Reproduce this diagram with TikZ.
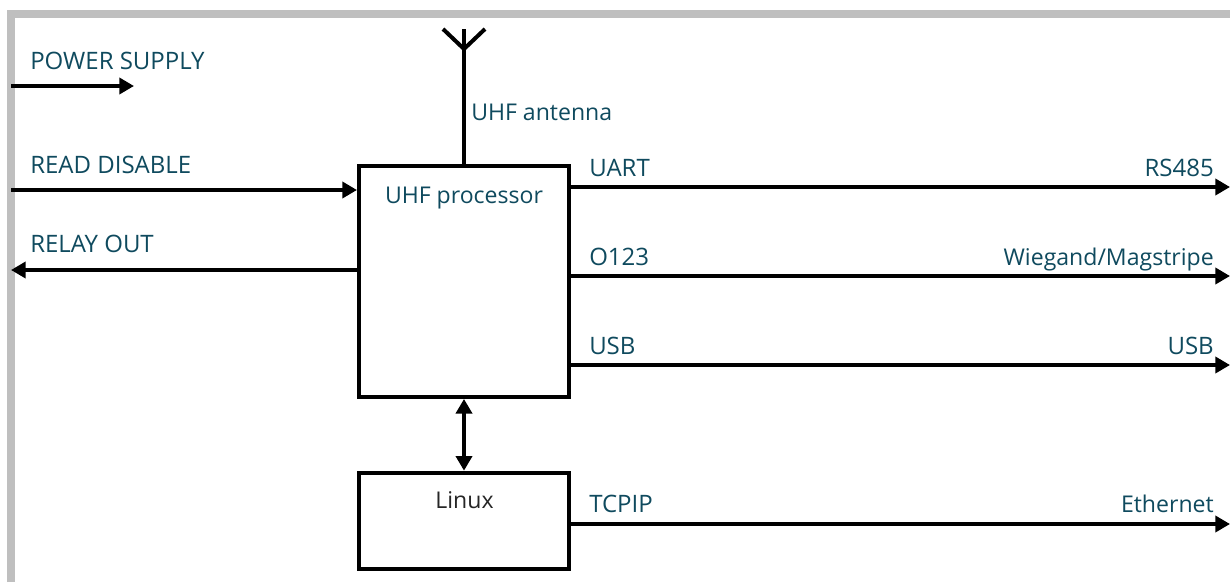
\documentclass[tikz,border=0pt]{standalone}
\usepackage{fontspec}
\setmainfont{Open Sans}
\usetikzlibrary{arrows.meta}
\definecolor{labelc}{HTML}{0F4A5E}
\definecolor{framec}{HTML}{BFBFBF}
\tikzset{
  x=0.75pt,y=-0.75pt,
  blockbox/.style={draw=black,line width=3pt,fill=white,inner sep=0pt,anchor=north west},
  wire/.style={draw=black,line width=3pt},
  sig/.style={wire,-{Triangle[length=11pt,width=12pt]}},
  dsig/.style={wire,{Triangle[length=11pt,width=12pt]}-{Triangle[length=11pt,width=12pt]}},
  lab/.style={inner sep=0pt,text=labelc,font=\fontsize{17.3pt}{20pt}\selectfont},
  capsize/.style={font=\fontsize{18pt}{20pt}\selectfont},
  labl/.style={lab,anchor=base west},
  labr/.style={lab,anchor=base east},
  labc/.style={lab,anchor=base},
}
\begin{document}
\begin{tikzpicture}
\useasboundingbox (0,0) rectangle (1230,582);
\fill[white] (0,0) rectangle (1230,582);
\draw[framec,line width=6pt] (11,582) -- (11,14) -- (1230,14);
% blocks
\node[blockbox,minimum width=157.5pt,minimum height=173.2pt] (uhf) at (357,164) {};
\node[blockbox,minimum width=157.5pt,minimum height=72.4pt] (linux) at (357,470.7) {};
% free ends
\coordinate (psL) at (11,86);   \coordinate (psR) at (134,86);
\coordinate (rdL) at (11,190);  \coordinate (roL) at (11,270);
\coordinate (rs) at (1230,187); \coordinate (wg) at (1230,276);
\coordinate (us) at (1230,365); \coordinate (et) at (1230,524);
\coordinate (anttop) at (464,29); \coordinate (antjoin) at (464,49);
\coordinate (antl) at (443,29); \coordinate (antr) at (485,29);
% connectors
\draw[sig] (psL) -- (psR);
\draw[sig] (rdL) -- (rdL-|uhf.west);
\draw[sig] (uhf.west|-roL) -- (roL);
\draw[sig] (uhf.east|-rs) -- (rs);
\draw[sig] (uhf.east|-wg) -- (wg);
\draw[sig] (uhf.east|-us) -- (us);
\draw[sig] (linux.east|-et) -- (et);
\draw[dsig] (uhf.south) -- (linux.north);
\draw[wire] (uhf.north) -- (anttop);
\draw[wire] (antl) -- (antjoin) -- (antr);
% labels
\node[labl,capsize] (l1) at (30,69) {POWER SUPPLY};
\node[labl,capsize] (l2) at (30,173) {READ DISABLE};
\node[labl,capsize] (l3) at (30,252) {RELAY OUT};
\node[labl] (l4) at (471,120) {UHF antenna};
\node[labc] (l5) at (464,203) {UHF processor};
\node[labc,text=black!85] (l6) at (464.5,508) {Linux};
\node[labl,capsize] (l7) at (589,176) {UART};
\node[labl,capsize] (l8) at (589,265) {O123};
\node[labl,capsize] (l9) at (589,354) {USB};
\node[labl,capsize] (l10) at (589,512) {TCPIP};
\node[labr,capsize] (r1) at (1214,176) {RS485};
\node[labr] (r2) at (1214,265) {Wiegand/Magstripe};
\node[labr,capsize] (r3) at (1214,354) {USB};
\node[labr] (r4) at (1214,512) {Ethernet};
\end{tikzpicture}
\end{document}
